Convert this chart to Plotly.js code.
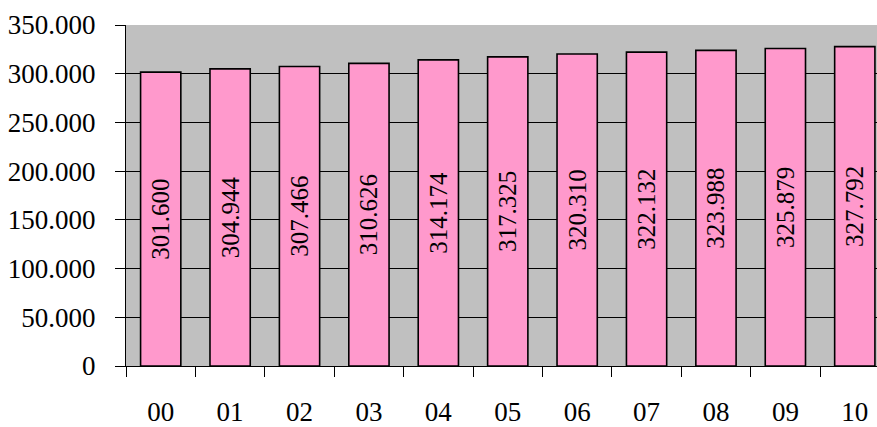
<!DOCTYPE html>
<html>
<head>
<meta charset="utf-8">
<script src="https://cdn.plot.ly/plotly-3.0.1.min.js"></script>
<style>html,body{margin:0;padding:0;overflow:hidden;background:#fff;}</style>
</head>
<body>
<div id="chart" style="width:877px;height:427px;"></div>
<script>
const categories = ['00','01','02','03','04','05','06','07','08','09','10'];
const values = [301600, 304944, 307466, 310626, 314174, 317325, 320310, 322132, 323988, 325879, 327792];
const yTicks = [0, 50000, 100000, 150000, 200000, 250000, 300000, 350000];

const FONT = 'Liberation Serif';

const trace = {
  type: 'bar',
  x: categories,
  y: values,
  marker: {color: '#FF99CC', line: {color: '#000000', width: 1.6}},
  texttemplate: '%{y:,d}',
  textposition: 'inside',
  insidetextanchor: 'middle',
  textangle: -90,
  textfont: {family: FONT, size: 25, color: '#000'},
  hoverinfo: 'none'
};

const layout = {
  width: 877, height: 427,
  margin: {l: 126, r: 0, t: 25, b: 61},
  paper_bgcolor: '#ffffff',
  plot_bgcolor: '#C0C0C0',
  separators: ',.',
  showlegend: false,
  bargap: 0.42,
  font: {family: FONT, size: 27, color: '#000'},
  xaxis: {
    type: 'category',
    range: [-0.5, 10.32],
    tickson: 'boundaries',
    ticks: 'outside', ticklen: 10, tickwidth: 1, tickcolor: '#000',
    showgrid: false,
    showline: true, linecolor: '#000', linewidth: 1,
    ticklabelstandoff: 22,
    tickfont: {family: FONT, size: 27}
  },
  yaxis: {
    range: [0, 350000],
    tickvals: yTicks,
    tickformat: ',d',
    ticks: 'outside', ticklen: 10, tickwidth: 1, tickcolor: '#000',
    showgrid: true, gridcolor: '#000', gridwidth: 1,
    zeroline: false,
    showline: true, linecolor: '#000', linewidth: 1,
    ticklabelstandoff: 14,
    tickfont: {family: FONT, size: 27}
  }
};

Plotly.newPlot('chart', [trace], layout, {displayModeBar: false, staticPlot: true});
</script>
</body>
</html>
